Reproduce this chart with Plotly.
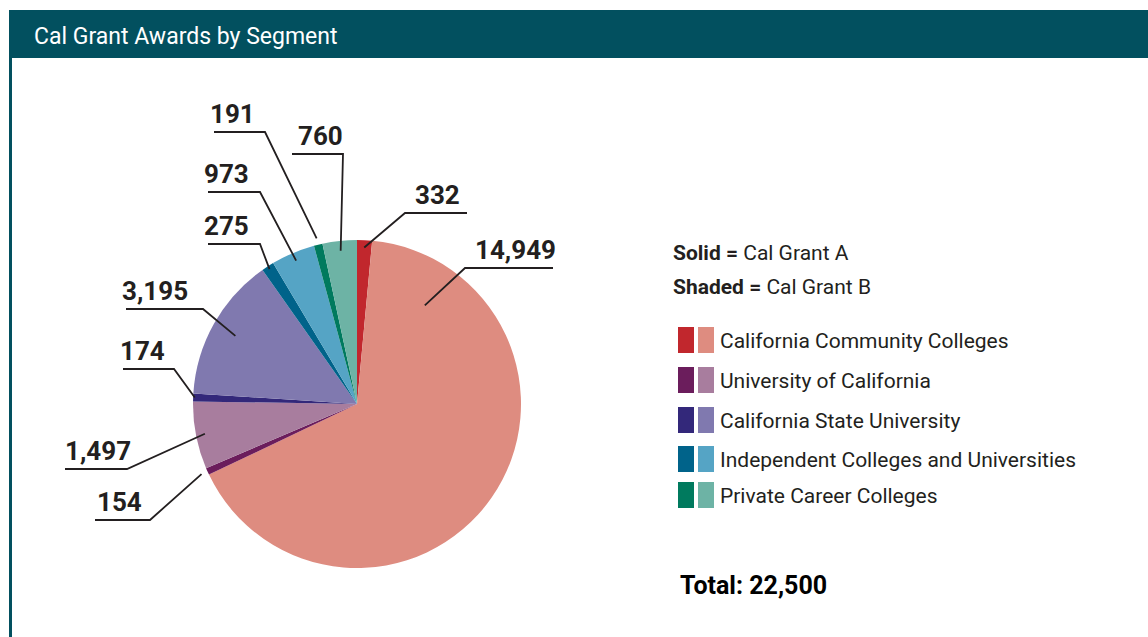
import math
import plotly.graph_objects as go

# ---------------- data ----------------
segments = ["California Community Colleges", "University of California",
            "California State University", "Independent Colleges and Universities",
            "Private Career Colleges"]
cal_grant_a = [332, 154, 174, 275, 191]
cal_grant_b = [14949, 1497, 3195, 973, 760]
colors_a = ["#C1272D", "#6B1D5C", "#33287A", "#00638A", "#007A5E"]
colors_b = ["#DE8C80", "#A87D9E", "#8079AF", "#55A4C5", "#6DB3A5"]

# pie order (clockwise from 12 o'clock)
slice_labels, slice_values, slice_colors = [], [], []
for i in range(5):
    slice_labels += [segments[i] + " (Cal Grant A)", segments[i] + " (Cal Grant B)"]
    slice_values += [cal_grant_a[i], cal_grant_b[i]]
    slice_colors += [colors_a[i], colors_b[i]]
total = sum(slice_values)

W, H = 1148, 637
FONT = "Roboto, Arial, sans-serif"
TEAL = "#02505F"
INK = "#231F20"

def px(x):
    return x / W

def py(y):
    return 1 - y / H

# pie geometry (pixels)
CX, CY, R = 357, 404, 164

fig = go.Figure()
fig.add_trace(go.Pie(
    labels=slice_labels, values=slice_values, sort=False, direction="clockwise",
    rotation=0, marker=dict(colors=slice_colors, line=dict(width=0)),
    textinfo="none", hoverinfo="label+value", showlegend=False,
    domain=dict(x=[px(CX - R), px(CX + R)], y=[py(CY + R), py(CY - R)]),
))

shapes = []
annotations = []

# header bar and left rule
shapes.append(dict(type="rect", xref="paper", yref="paper", x0=px(9), x1=px(1148),
                   y0=py(58), y1=py(10), fillcolor=TEAL, line=dict(width=0), layer="below"))
shapes.append(dict(type="rect", xref="paper", yref="paper", x0=px(9), x1=px(12),
                   y0=py(637), y1=py(58), fillcolor=TEAL, line=dict(width=0), layer="below"))
annotations.append(dict(xref="paper", yref="paper", x=px(32), y=py(36), xanchor="left",
                        yanchor="middle", showarrow=False, text="Cal Grant Awards by Segment",
                        font=dict(family=FONT, size=23, color="white")))

# leader lines: (slice index, radius factor, elbow x, elbow y, line-end x, angle override, text dx)
leaders = [
    (0, 0.955, 405, 213, 467, None, 10),
    (1, 0.73, 465, 268, 553, 34.5, 10),
    (2, 1.04, 150, 520, 95, None, 2),
    (3, 0.945, 127, 469, 65, None, 0),
    (4, 0.99, 174, 369, 123, None, -3),
    (5, 0.85, 203, 309, 126, None, -4),
    (6, 0.98, 260, 244, 208, None, -4),
    (7, 0.95, 260, 192, 208, None, -4),
    (8, 1.04, 265, 132, 214, None, -4),
    (9, 0.94, 343, 154, 292, None, 6),
]
cum = 0
mids = []
for v in slice_values:
    mids.append((cum + v / 2) / total * 360)
    cum += v

for idx, f, ex, ey, lx, ang, tdx in leaders:
    a = math.radians(ang if ang is not None else mids[idx])
    sx = CX + R * f * math.sin(a)
    sy = CY - R * f * math.cos(a)
    path = f"M {px(sx)},{py(sy)} L {px(ex)},{py(ey)} L {px(lx)},{py(ey)}"
    shapes.append(dict(type="path", xref="paper", yref="paper", path=path,
                       line=dict(color=INK, width=1.8)))
    left = min(ex, lx)
    annotations.append(dict(xref="paper", yref="paper", x=px(left + tdx - 2), y=py(ey - 1),
                            xanchor="left", yanchor="bottom", showarrow=False,
                            text=f"<b>{slice_values[idx]:,}</b>",
                            font=dict(family=FONT, size=26, color=INK)))

# key
annotations.append(dict(xref="paper", yref="paper", x=px(671), y=py(253), xanchor="left",
                        yanchor="middle", showarrow=False,
                        text="<b>Solid =</b> Cal Grant A",
                        font=dict(family=FONT, size=21, color=INK)))
annotations.append(dict(xref="paper", yref="paper", x=px(671), y=py(287), xanchor="left",
                        yanchor="middle", showarrow=False,
                        text="<b>Shaded =</b> Cal Grant B",
                        font=dict(family=FONT, size=21, color=INK)))

row_y = [340, 380, 420, 459, 495]
for i, seg in enumerate(segments):
    yc = row_y[i]
    shapes.append(dict(type="rect", xref="paper", yref="paper", x0=px(678), x1=px(694),
                       y0=py(yc + 13), y1=py(yc - 13), fillcolor=colors_a[i], line=dict(width=0)))
    shapes.append(dict(type="rect", xref="paper", yref="paper", x0=px(698), x1=px(714),
                       y0=py(yc + 13), y1=py(yc - 13), fillcolor=colors_b[i], line=dict(width=0)))
    annotations.append(dict(xref="paper", yref="paper", x=px(718), y=py(yc + 1), xanchor="left",
                            yanchor="middle", showarrow=False, text=seg,
                            font=dict(family=FONT, size=21, color=INK)))

annotations.append(dict(xref="paper", yref="paper", x=px(678), y=py(585), xanchor="left",
                        yanchor="middle", showarrow=False,
                        text=f"<b>Total: {total:,}</b>",
                        font=dict(family=FONT, size=25, color="#000000")))

fig.update_layout(
    width=W, height=H, margin=dict(l=0, r=0, t=0, b=0),
    paper_bgcolor="white", plot_bgcolor="white",
    shapes=shapes, annotations=annotations, showlegend=False,
)

fig.write_html(
    "out.html",
    config={"displayModeBar": False},
    post_script="document.body.style.margin='0';document.documentElement.style.overflow='hidden';",
)
